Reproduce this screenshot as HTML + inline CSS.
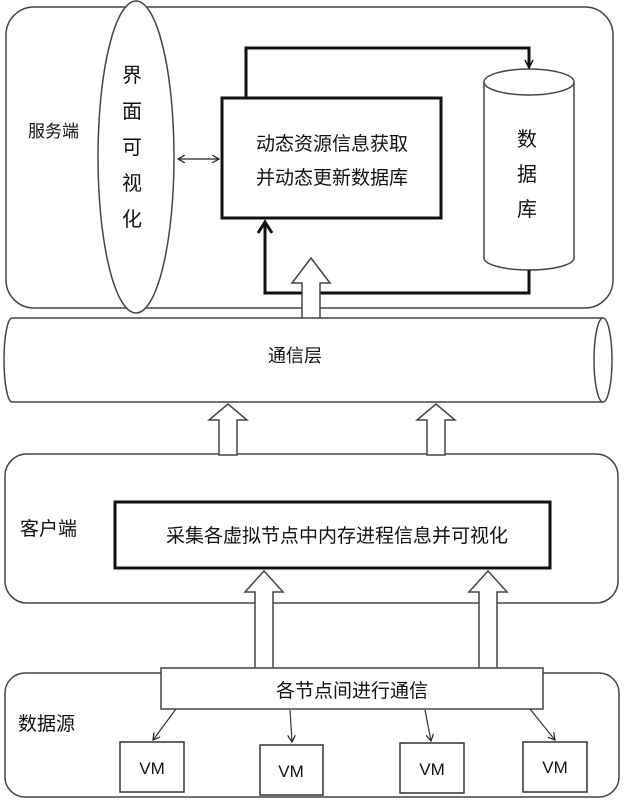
<!DOCTYPE html>
<html><head><meta charset="utf-8"><style>body{margin:0;background:#fff}svg{display:block}text{font-family:"Liberation Sans","Noto Sans CJK SC",sans-serif;fill:#111}</style></head><body>
<svg width="624" height="800" viewBox="0 0 624 800" xmlns="http://www.w3.org/2000/svg">
<defs>
<marker id="a" markerWidth="8" markerHeight="8" refX="7" refY="4" orient="auto-start-reverse" markerUnits="userSpaceOnUse"><path d="M0,0 L7,4 L0,8" fill="none" stroke="#222" stroke-width="1.2"/></marker>
</defs>
<g stroke="#444" stroke-width="1.5" fill="none">
<rect x="6" y="7" width="607" height="301" rx="28"/>
<rect x="5" y="454" width="613" height="149" rx="22"/>
<rect x="5" y="673" width="614" height="124" rx="20"/>
</g>
<ellipse cx="136" cy="157" rx="38" ry="156" fill="#fff" stroke="#444" stroke-width="1.5"/>
<text x="28" y="137" font-size="17">服务端</text>
<g font-size="20" text-anchor="middle"><text x="132" y="82">界</text><text x="132" y="118">面</text><text x="132" y="154">可</text><text x="132" y="190">视</text><text x="132" y="226">化</text></g>
<line x1="178" y1="159" x2="219" y2="159" stroke="#222" stroke-width="1.2" marker-end="url(#a)" marker-start="url(#a)"/>
<rect x="222" y="98" width="219" height="120" fill="#fff" stroke="#111" stroke-width="3"/>
<text x="332" y="150" font-size="19" text-anchor="middle">动态资源信息获取</text>
<text x="332" y="184" font-size="19" text-anchor="middle">并动态更新数据库</text>
<path d="M484,82 V258 A45,12 0 0 0 574,258 V82" fill="#fff" stroke="#444" stroke-width="1.5"/>
<ellipse cx="529" cy="82" rx="45" ry="13" fill="#fff" stroke="#444" stroke-width="1.5"/>
<g font-size="20" text-anchor="middle"><text x="527" y="146">数</text><text x="527" y="181">据</text><text x="527" y="216">库</text></g>
<path d="M246,98 V48 H529 V66" fill="none" stroke="#111" stroke-width="3"/>
<path d="M525,60 L529,68 L533,60" fill="none" stroke="#111" stroke-width="1.5"/>
<path d="M529,270 V293 H265 V222" fill="none" stroke="#111" stroke-width="3"/>
<path d="M258,233 L265,222 L272,233" fill="none" stroke="#111" stroke-width="3"/>
<g fill="#fff" stroke="#444" stroke-width="1.5">
<path d="M302,320 V283 H292 L311,258 L330,283 H320 V320 Z"/>
<path d="M219,455 V420 H209 L228,404 L247,420 H237 V455 Z"/>
<path d="M427,455 V420 H417 L436,404 L455,420 H445 V455 Z"/>
<path d="M255,688 V592 H245 L264,571 L283,592 H273 V688 Z"/>
<path d="M479,688 V592 H469 L488,571 L507,592 H497 V688 Z"/>
</g>
<path d="M12,318 H603 A9,42 0 0 1 603,402 H12 A8,42 0 0 1 12,318 Z" fill="#fff" stroke="#444" stroke-width="1.5"/>
<path d="M603,318 A9,42 0 0 0 603,402" fill="none" stroke="#444" stroke-width="1.5"/>
<text x="295" y="362" font-size="18" text-anchor="middle">通信层</text>
<text x="20" y="535" font-size="19">客户端</text>
<rect x="115" y="502" width="435" height="66" fill="#fff" stroke="#111" stroke-width="3"/>
<text x="337" y="542" font-size="19" text-anchor="middle">采集各虚拟节点中内存进程信息并可视化</text>
<text x="18" y="730" font-size="19">数据源</text>
<rect x="161" y="668" width="382" height="41" fill="#fff" stroke="#444" stroke-width="1.5"/>
<text x="352" y="697" font-size="19" text-anchor="middle">各节点间进行通信</text>
<g stroke="#333" stroke-width="1.2" marker-end="url(#a)">
<line x1="176" y1="709" x2="153" y2="740"/>
<line x1="290" y1="710" x2="292" y2="742"/>
<line x1="425" y1="710" x2="431" y2="741"/>
<line x1="530" y1="709" x2="555" y2="740"/>
</g>
<g fill="#fff" stroke="#333" stroke-width="1.5">
<rect x="120" y="742" width="64" height="50"/><rect x="260" y="745" width="63" height="50"/><rect x="400" y="743" width="64" height="50"/><rect x="523" y="742" width="64" height="50"/>
</g>
<g font-size="17" text-anchor="middle"><text x="152" y="774">VM</text><text x="291" y="777">VM</text><text x="432" y="775">VM</text><text x="555" y="773">VM</text></g>
</svg>
</body></html>
